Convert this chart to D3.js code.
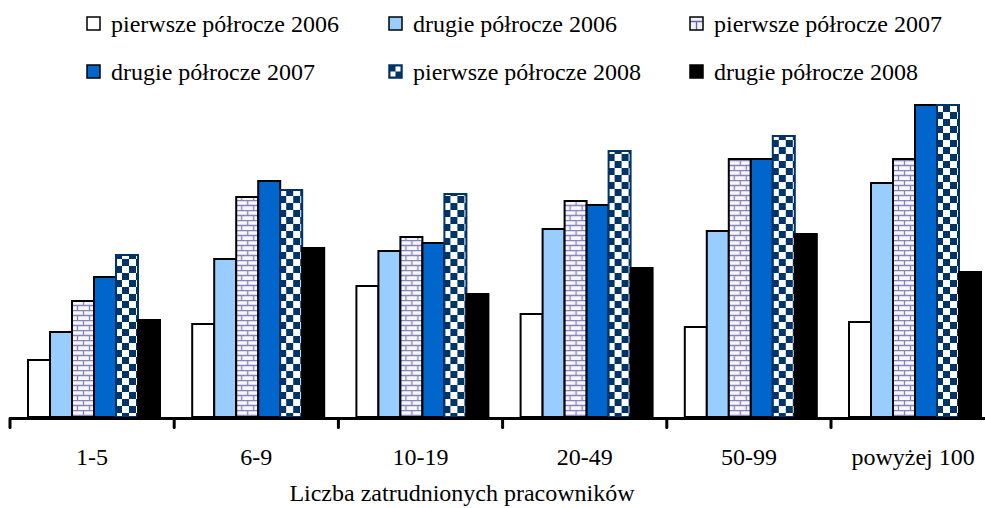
<!DOCTYPE html>
<html>
<head>
<meta charset="utf-8">
<script src="https://cdn.jsdelivr.net/npm/d3@7"></script>
<style>
  body { margin: 0; background: #fff; }
  text { font-family: "Liberation Serif", "Times New Roman", serif; fill: #000; }
</style>
</head>
<body>
<div class="canvas"></div>
<script>
const categories = ['1-5', '6-9', '10-19', '20-49', '50-99', 'powyżej 100'];
const seriesNames = ['pierwsze półrocze 2006', 'drugie półrocze 2006', 'pierwsze półrocze 2007',
                     'drugie półrocze 2007', 'pierwsze półrocze 2008', 'drugie półrocze 2008'];
// one array per series, values per category
const h1_2006 = [5.7, 9.3, 13.1, 10.3, 9.0, 9.5];
const h2_2006 = [8.5, 15.8, 16.6, 18.8, 18.6, 23.4];
const h1_2007 = [11.6, 22.0, 18.0, 21.6, 25.8, 25.8];
const h2_2007 = [14.0, 23.6, 17.4, 21.2, 25.8, 31.2];
const h1_2008 = [16.2, 22.7, 22.3, 26.6, 28.1, 31.2];
const h2_2008 = [9.7, 16.9, 12.3, 14.9, 18.3, 14.5];
const seriesValues = [h1_2006, h2_2006, h1_2007, h2_2007, h1_2008, h2_2008];
const axisTitle = 'Liczba zatrudnionych pracowników';

const width = 985, height = 508;
const baseY = 417;

const svg = d3.select('.canvas')
  .append('svg')
    .attr('width', width)
    .attr('height', height);

// patterns
const defs = svg.append('defs');

const brick = defs.append('pattern')
    .attr('id', 'brick')
    .attr('patternUnits', 'userSpaceOnUse')
    .attr('width', 12).attr('height', 10);
brick.append('rect').attr('width', 12).attr('height', 10).attr('fill', '#f6f6fd');
brick.append('path')
    .attr('d', 'M0,0.5H12 M0,5.5H12 M1.5,0V5.5 M7.5,5.5V10')
    .attr('stroke', '#8a84b4').attr('stroke-width', 1.3).attr('fill', 'none');

const brickSmall = defs.append('pattern')
    .attr('id', 'brickSmall')
    .attr('patternUnits', 'objectBoundingBox')
    .attr('width', 1).attr('height', 1);
brickSmall.append('rect').attr('width', 13).attr('height', 13).attr('fill', '#f0f0fb');
brickSmall.append('path')
    .attr('d', 'M0,4.5H13 M6.5,4.5V13')
    .attr('stroke', '#6a64a4').attr('stroke-width', 1.3).attr('fill', 'none');

const checker = defs.append('pattern')
    .attr('id', 'checker')
    .attr('patternUnits', 'userSpaceOnUse')
    .attr('width', 14).attr('height', 14);
checker.append('rect').attr('width', 14).attr('height', 14).attr('fill', '#fff');
checker.append('rect').attr('x', 7).attr('y', 0).attr('width', 7).attr('height', 7).attr('fill', '#003366');
checker.append('rect').attr('x', 0).attr('y', 7).attr('width', 7).attr('height', 7).attr('fill', '#003366');

const checkerSmall = defs.append('pattern')
    .attr('id', 'checkerSmall')
    .attr('patternUnits', 'objectBoundingBox')
    .attr('width', 1).attr('height', 1);
checkerSmall.append('rect').attr('width', 13).attr('height', 13).attr('fill', '#003366');
checkerSmall.append('rect').attr('x', 1.5).attr('y', 6.5).attr('width', 5).attr('height', 5).attr('fill', '#fff');
checkerSmall.append('rect').attr('x', 6.5).attr('y', 1.5).attr('width', 5).attr('height', 5).attr('fill', '#fff');

const fills = ['#ffffff', '#99ccff', 'url(#brick)', '#0066cc', 'url(#checker)', '#000000'];
const legendFills = ['#ffffff', '#99ccff', 'url(#brickSmall)', '#0066cc', 'url(#checkerSmall)', '#000000'];
const strokes = ['#000', '#000', '#000', '#000', '#003366', '#000'];

// scales
const x0 = d3.scaleBand()
    .domain(categories)
    .range([10, 10 + 6 * 164.2]);

const x1 = d3.scaleBand()
    .domain(d3.range(seriesNames.length))
    .range([18, 150]);

const y = d3.scaleLinear()
    .domain([0, 31.2])
    .range([baseY, 105]);

const graph = svg.append('g');

const groups = graph.selectAll('g.group')
  .data(categories)
  .enter().append('g')
    .attr('class', 'group')
    .attr('transform', d => `translate(${x0(d)},0)`);

groups.selectAll('rect')
  .data((c, ci) => seriesValues.map((s, si) => ({ si, v: s[ci] })))
  .enter().append('rect')
    .attr('x', d => x1(d.si))
    .attr('y', d => y(d.v))
    .attr('width', x1.bandwidth())
    .attr('height', d => baseY - y(d.v))
    .attr('fill', d => fills[d.si])
    .attr('stroke', d => strokes[d.si])
    .attr('stroke-width', 2);

// x axis
const xAxisGroup = svg.append('g')
    .attr('transform', `translate(0,${baseY + 1.5})`);
xAxisGroup.append('line')
    .attr('x1', 9).attr('x2', 990)
    .attr('stroke', '#000').attr('stroke-width', 3);
xAxisGroup.selectAll('line.tick')
  .data(categories)
  .enter().append('line')
    .attr('class', 'tick')
    .attr('x1', d => x0(d)).attr('x2', d => x0(d))
    .attr('y1', 0).attr('y2', 9)
    .attr('stroke', '#000').attr('stroke-width', 3)
    .attr('stroke-linecap', 'round');

svg.selectAll('text.cat')
  .data(categories)
  .enter().append('text')
    .attr('class', 'cat')
    .attr('x', d => x0(d) + x0.bandwidth() / 2)
    .attr('y', 465)
    .attr('text-anchor', 'middle')
    .attr('font-size', 24)
    .text(d => d);

svg.append('text')
    .attr('x', 462)
    .attr('y', 501)
    .attr('text-anchor', 'middle')
    .attr('font-size', 24)
    .text(axisTitle);

// legend
const legendX = [87, 389, 690];
const legendY = [17, 65];
const legend = svg.selectAll('g.legend')
  .data(seriesNames)
  .enter().append('g')
    .attr('class', 'legend')
    .attr('transform', (d, i) => `translate(${legendX[i % 3]},${legendY[Math.floor(i / 3)]})`);

legend.append('rect')
    .attr('width', 13).attr('height', 13)
    .attr('fill', (d, i) => legendFills[i])
    .attr('stroke', (d, i) => strokes[i])
    .attr('stroke-width', 1.5);

legend.append('text')
    .attr('x', 24)
    .attr('y', 15)
    .attr('font-size', 24)
    .text(d => d);
</script>
</body>
</html>
